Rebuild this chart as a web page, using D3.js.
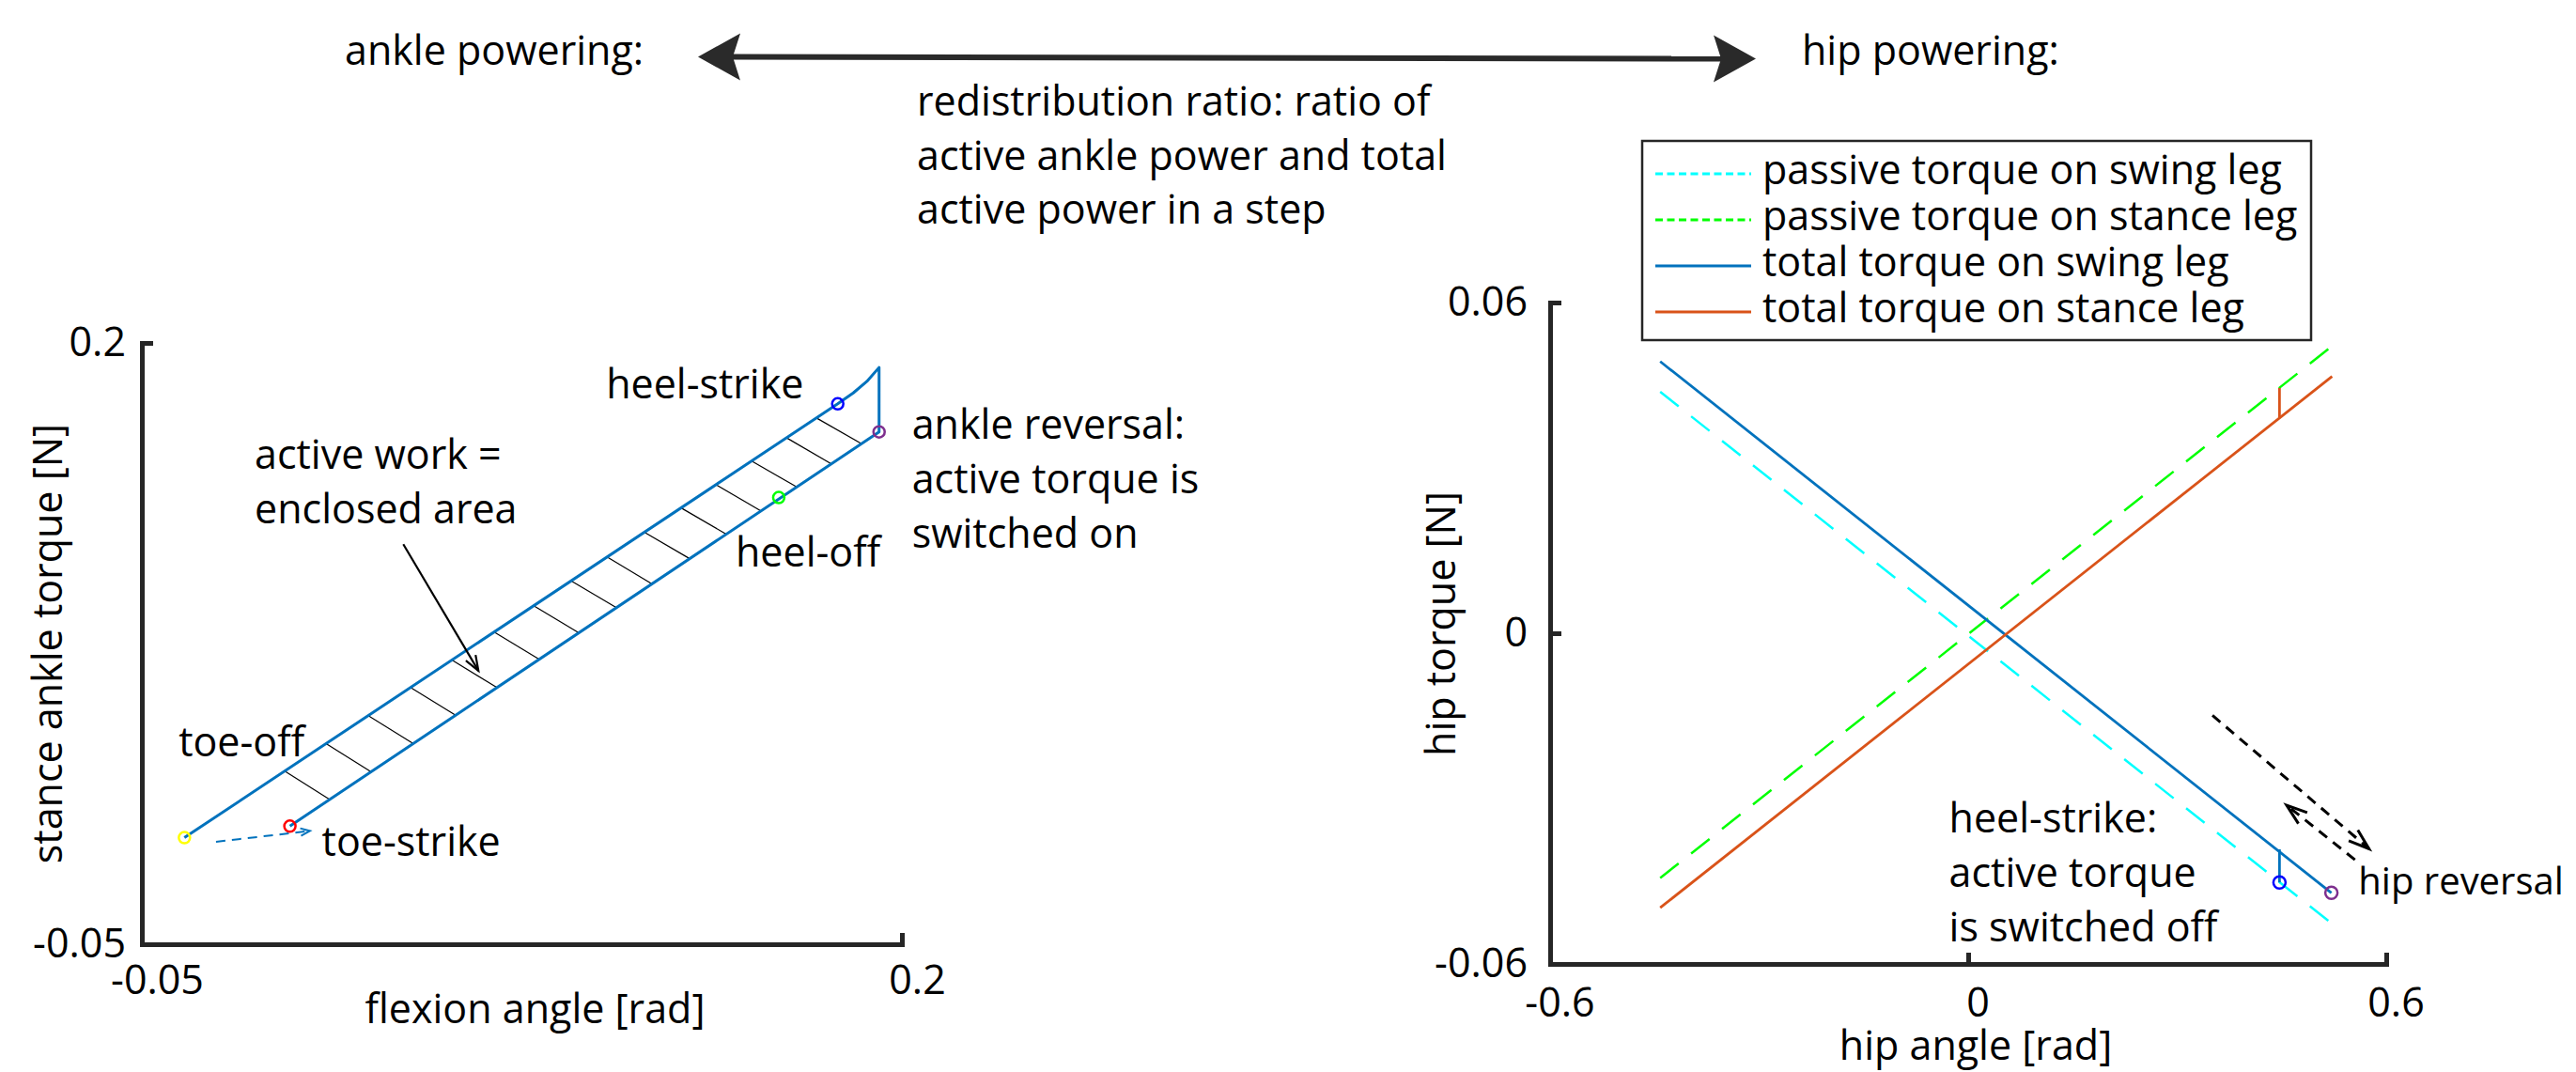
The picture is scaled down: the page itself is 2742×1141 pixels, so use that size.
<!DOCTYPE html>
<html>
<head>
<meta charset="utf-8">
<script src="https://cdn.jsdelivr.net/npm/d3@7/dist/d3.min.js"></script>
<style>
  body { margin: 0; background: #fff; }
  svg text { font-family: 'Open Sans', Lato, sans-serif; fill: #000; }
</style>
</head>
<body>
<div class="figure"></div>
<script>
// ---------- ankle powering (left panel) ----------
const ankle_x_ticks = [-0.05, 0.2];
const ankle_x_labels = ['-0.05', '0.2'];
const ankle_y_ticks = [-0.05, 0.2];
const ankle_y_labels = ['-0.05', '0.2'];

// toe-off -> heel-strike -> peak -> ankle reversal -> toe-strike
const ankle_cycle_x = [-0.0360, 0.1789, 0.1840, 0.1885, 0.1925, 0.1925, -0.0013];
const ankle_cycle_y = [-0.0057, 0.1747, 0.1792, 0.1840, 0.1898, 0.1630, -0.0009];

// hatching of the enclosed area: [x0, y0, x1, y1]
const ankle_hatch = [
  [-0.0030, 0.0220, 0.0118, 0.0102],
  [ 0.0106, 0.0334, 0.0254, 0.0217],
  [ 0.0245, 0.0450, 0.0393, 0.0334],
  [ 0.0384, 0.0567, 0.0532, 0.0452],
  [ 0.0520, 0.0682, 0.0668, 0.0567],
  [ 0.0659, 0.0798, 0.0807, 0.0685],
  [ 0.0789, 0.0907, 0.0937, 0.0795],
  [ 0.0912, 0.1011, 0.1061, 0.0899],
  [ 0.1030, 0.1110, 0.1178, 0.0998],
  [ 0.1153, 0.1213, 0.1302, 0.1103],
  [ 0.1274, 0.1314, 0.1422, 0.1205],
  [ 0.1388, 0.1411, 0.1536, 0.1302],
  [ 0.1506, 0.1509, 0.1654, 0.1401],
  [ 0.1620, 0.1606, 0.1768, 0.1497],
  [ 0.1719, 0.1688, 0.1867, 0.1581]
];

const ankle_events = ['toe-off', 'toe-strike', 'heel-off', 'heel-strike', 'ankle reversal'];
const ankle_event_x = [-0.0360, -0.0013, 0.1595, 0.1789, 0.1925];
const ankle_event_y = [-0.0057, -0.0009, 0.1357, 0.1747, 0.1630];
const ankle_event_colors = ['#ffff00', '#ff0000', '#00ff00', '#0000ff', '#7e2f8e'];

// toe-off -> toe-strike transition (dashed arrow)
const ankle_transfer = [[-0.0256, -0.0074], [0.0053, -0.0029]];
// "active work" pointer
const ankle_pointer = [[0.0360, 0.1163], [0.0607, 0.0637]];

const ankle_notes = [
  {lines: ['heel-strike'], x: 0.1027, y: 0.1770},
  {lines: ['active work =', 'enclosed area'], x: -0.0129, y: 0.1475},
  {lines: ['heel-off'], x: 0.1453, y: 0.1070},
  {lines: ['toe-off'], x: -0.0379, y: 0.0281},
  {lines: ['toe-strike'], x: 0.0092, y: -0.0132},
  {lines: ['ankle reversal:', 'active torque is', 'switched on'], x: 0.2033, y: 0.1600}
];

// ---------- hip powering (right panel) ----------
const hip_x_ticks = [-0.6, 0, 0.6];
const hip_x_labels = ['-0.6', '0', '0.6'];
const hip_y_ticks = [-0.06, 0, 0.06];
const hip_y_labels = ['-0.06', '0', '0.06'];

const hip_series = ['passive torque on swing leg', 'passive torque on stance leg',
                    'total torque on swing leg', 'total torque on stance leg'];
const hip_passive_swing = [[-0.442, 0.0438], [0.5213, -0.0526]];
const hip_passive_stance = [[-0.442, -0.0444], [0.5223, 0.0521]];
const hip_total_swing = [[-0.442, 0.0493], [0.5213, -0.0471]];
const hip_total_stance = [[-0.442, -0.0498], [0.5223, 0.0466]];
const hip_swing_jump = [[0.4468, -0.0392], [0.4468, -0.0452]];
const hip_stance_jump = [[0.4468, 0.0445], [0.4468, 0.0390]];

const hip_events = ['heel-strike', 'hip reversal'];
const hip_event_x = [0.4468, 0.5213];
const hip_event_y = [-0.0452, -0.0471];
const hip_event_colors = ['#0000ff', '#7e2f8e'];

// reversal arrows (dashed)
const hip_arrow_out = [[0.3506, -0.0149], [0.5753, -0.0391]];
const hip_arrow_back = [[0.5551, -0.0411], [0.4571, -0.0312]];

const hip_notes = [
  {lines: ['hip reversal'], x: 0.5600, y: -0.0474, size: 40},
  {lines: ['heel-strike:', 'active torque', 'is switched off'], x: -0.0275, y: -0.0361}
];

// ---------- canvas ----------
const svg_width = 2742;
const svg_height = 1141;
const font_size = 43;
const line_gap = 58;
const axis_color = '#262626';

const svg = d3.select('.figure')
  .append('svg')
  .attr('width', svg_width)
  .attr('height', svg_height);
svg.append('rect').attr('width', svg_width).attr('height', svg_height).attr('fill', '#fff');

const defs = svg.append('defs');

// open chevron arrow head
function add_chevron(id, color, len, half, width){
  defs.append('marker')
    .attr('id', id)
    .attr('markerUnits', 'userSpaceOnUse')
    .attr('viewBox', `0 0 ${len} ${half * 2}`)
    .attr('markerWidth', len)
    .attr('markerHeight', half * 2)
    .attr('refX', len)
    .attr('refY', half)
    .attr('orient', 'auto')
    .style('overflow', 'visible')
    .append('path')
    .attr('d', `M0,0L${len},${half}L0,${half * 2}`)
    .attr('fill', 'none')
    .attr('stroke', color)
    .attr('stroke-width', width)
    .attr('stroke-dasharray', 'none');
}
add_chevron('chev-black', '#000', 16, 6, 2.2);
add_chevron('chev-hip', '#000', 22, 7.5, 3);
add_chevron('chev-blue', '#0072bd', 10, 4, 2);

// filled concave head for the ratio arrow
defs.append('marker')
  .attr('id', 'head-big')
  .attr('markerUnits', 'userSpaceOnUse')
  .attr('viewBox', '0 0 45 50')
  .attr('markerWidth', 45)
  .attr('markerHeight', 50)
  .attr('refX', 8)
  .attr('refY', 25)
  .attr('orient', 'auto-start-reverse')
  .style('overflow', 'visible')
  .append('path')
  .attr('d', 'M0,0L45,25L0,50L8,25Z')
  .attr('fill', '#2a2a2a');

function add_notes(g, notes, x, y){
  notes.forEach(n => {
    const t = g.append('text')
      .attr('x', x(n.x))
      .attr('y', y(n.y))
      .style('font-size', (n.size || font_size) + 'px');
    n.lines.forEach((s, i) => {
      t.append('tspan').attr('x', x(n.x)).attr('dy', i === 0 ? 0 : line_gap).text(s);
    });
  });
}

function draw_axes(box, x, y, x_ticks, x_labels, y_ticks, y_labels, x_pad, y_pad, x_shift){
  const x_axis = d3.axisBottom(x)
    .tickValues(x_ticks)
    .tickFormat((d, i) => x_labels[i])
    .tickSizeInner(-12)
    .tickSizeOuter(0)
    .tickPadding(x_pad);
  const y_axis = d3.axisLeft(y)
    .tickValues(y_ticks)
    .tickFormat((d, i) => y_labels[i])
    .tickSizeInner(-12)
    .tickSizeOuter(0)
    .tickPadding(y_pad);
  const gx = svg.append('g')
    .attr('transform', `translate(0, ${box.bottom})`)
    .call(x_axis);
  const gy = svg.append('g')
    .attr('transform', `translate(${box.left}, 0)`)
    .call(y_axis);
  [gx, gy].forEach(g => {
    g.select('.domain').attr('stroke', axis_color).attr('stroke-width', 5).attr('stroke-linecap', 'square');
    g.selectAll('.tick line').attr('stroke', axis_color).attr('stroke-width', 5);
    g.selectAll('.tick text')
      .attr('fill', '#000')
      .style('font-family', '"Open Sans", Lato, sans-serif')
      .style('font-size', font_size + 'px');
  });
  gx.selectAll('.tick text').attr('dx', x_shift);
}

// ---------- ratio header ----------
const header = svg.append('g');
header.append('path')
  .attr('d', d3.line()([[780, 60.5], [1832, 62.5]]))
  .attr('stroke', '#2a2a2a')
  .attr('stroke-width', 6)
  .attr('fill', 'none')
  .attr('marker-start', 'url(#head-big)')
  .attr('marker-end', 'url(#head-big)');
header.append('text').attr('x', 367).attr('y', 69).style('font-size', font_size + 'px').text('ankle powering:');
header.append('text').attr('x', 1918).attr('y', 69).style('font-size', font_size + 'px').text('hip powering:');
const ratio_text = header.append('text').attr('x', 976).attr('y', 123).style('font-size', font_size + 'px');
['redistribution ratio: ratio of', 'active ankle power and total', 'active power in a step']
  .forEach((s, i) => ratio_text.append('tspan').attr('x', 976).attr('dy', i === 0 ? 0 : 57.5).text(s));

// ---------- ankle panel ----------
const ankle_box = {left: 151, right: 960, top: 365, bottom: 1005};
const ax = d3.scaleLinear().domain([-0.05, 0.2]).range([ankle_box.left, ankle_box.right]);
const ay = d3.scaleLinear().domain([-0.05, 0.2]).range([ankle_box.bottom, ankle_box.top]);
const ankle_line = d3.line().x(d => ax(d[0])).y(d => ay(d[1]));

draw_axes(ankle_box, ax, ay, ankle_x_ticks, ankle_x_labels, ankle_y_ticks, ankle_y_labels, 22, 17, 16);

const ankle_g = svg.append('g');
ankle_g.selectAll('.hatch')
  .data(ankle_hatch)
  .enter()
  .append('line')
  .attr('class', 'hatch')
  .attr('x1', d => ax(d[0])).attr('y1', d => ay(d[1]))
  .attr('x2', d => ax(d[2])).attr('y2', d => ay(d[3]))
  .attr('stroke', '#000')
  .attr('stroke-width', 1.2);

ankle_g.append('path')
  .attr('d', ankle_line(ankle_cycle_x.map((d, i) => [d, ankle_cycle_y[i]])))
  .attr('fill', 'none')
  .attr('stroke', '#0072bd')
  .attr('stroke-width', 3)
  .attr('stroke-linejoin', 'round');

ankle_g.append('path')
  .attr('d', ankle_line(ankle_transfer))
  .attr('fill', 'none')
  .attr('stroke', '#0072bd')
  .attr('stroke-width', 2)
  .attr('stroke-dasharray', '10,7')
  .attr('marker-end', 'url(#chev-blue)');

ankle_g.append('path')
  .attr('d', ankle_line(ankle_pointer))
  .attr('fill', 'none')
  .attr('stroke', '#000')
  .attr('stroke-width', 2.2)
  .attr('marker-end', 'url(#chev-black)');

ankle_g.selectAll('.event')
  .data(ankle_events)
  .enter()
  .append('circle')
  .attr('class', 'event')
  .attr('cx', (d, i) => ax(ankle_event_x[i]))
  .attr('cy', (d, i) => ay(ankle_event_y[i]))
  .attr('r', 6)
  .attr('fill', 'none')
  .attr('stroke', (d, i) => ankle_event_colors[i])
  .attr('stroke-width', 2.5);

add_notes(ankle_g, ankle_notes, ax, ay);

svg.append('text')
  .attr('x', (ankle_box.left + ankle_box.right) / 2 + 14)
  .attr('y', 1089)
  .attr('text-anchor', 'middle')
  .style('font-size', font_size + 'px')
  .text('flexion angle [rad]');
svg.append('text')
  .attr('transform', `translate(66, ${(ankle_box.top + ankle_box.bottom) / 2}) rotate(-90)`)
  .attr('text-anchor', 'middle')
  .style('font-size', font_size + 'px')
  .text('stance ankle torque [N]');

// ---------- hip panel ----------
const hip_box = {left: 1650, right: 2540, top: 322, bottom: 1026};
const hx = d3.scaleLinear().domain([-0.6, 0.6]).range([hip_box.left, hip_box.right]);
const hy = d3.scaleLinear().domain([-0.06, 0.06]).range([hip_box.bottom, hip_box.top]);
const hip_line = d3.line().x(d => hx(d[0])).y(d => hy(d[1]));

draw_axes(hip_box, hx, hy, hip_x_ticks, hip_x_labels, hip_y_ticks, hip_y_labels, 25, 24, 10);

const hip_colors = ['#00ffff', '#00ff00', '#0072bd', '#d95319'];
const hip_dash = ['25,17', '25,17', null, null];
const hip_data = [hip_passive_swing, hip_passive_stance, hip_total_swing, hip_total_stance];

const hip_g = svg.append('g');
hip_g.selectAll('.series')
  .data(hip_data)
  .enter()
  .append('path')
  .attr('class', 'series')
  .attr('d', d => hip_line(d))
  .attr('fill', 'none')
  .attr('stroke', (d, i) => hip_colors[i])
  .attr('stroke-width', (d, i) => i < 2 ? 2.5 : 2.8)
  .attr('stroke-dasharray', (d, i) => hip_dash[i]);

hip_g.append('path').attr('d', hip_line(hip_swing_jump))
  .attr('stroke', hip_colors[2]).attr('stroke-width', 2.8).attr('fill', 'none');
hip_g.append('path').attr('d', hip_line(hip_stance_jump))
  .attr('stroke', hip_colors[3]).attr('stroke-width', 2.8).attr('fill', 'none');

[hip_arrow_out, hip_arrow_back].forEach(a => {
  hip_g.append('path')
    .attr('d', hip_line(a))
    .attr('fill', 'none')
    .attr('stroke', '#000')
    .attr('stroke-width', 3)
    .attr('stroke-dasharray', '11,8')
    .attr('marker-end', 'url(#chev-hip)');
});

hip_g.selectAll('.event')
  .data(hip_events)
  .enter()
  .append('circle')
  .attr('class', 'event')
  .attr('cx', (d, i) => hx(hip_event_x[i]))
  .attr('cy', (d, i) => hy(hip_event_y[i]))
  .attr('r', 6.5)
  .attr('fill', 'none')
  .attr('stroke', (d, i) => hip_event_colors[i])
  .attr('stroke-width', 2.5);

add_notes(hip_g, hip_notes, hx, hy);

svg.append('text')
  .attr('x', (hip_box.left + hip_box.right) / 2 + 8)
  .attr('y', 1128)
  .attr('text-anchor', 'middle')
  .style('font-size', font_size + 'px')
  .text('hip angle [rad]');
svg.append('text')
  .attr('transform', `translate(1549, ${(hip_box.top + hip_box.bottom) / 2 - 10}) rotate(-90)`)
  .attr('text-anchor', 'middle')
  .style('font-size', font_size + 'px')
  .text('hip torque [N]');

// legend
const legend = svg.append('g').attr('transform', 'translate(1748, 150)');
legend.append('rect')
  .attr('width', 712).attr('height', 212)
  .attr('fill', '#fff')
  .attr('stroke', axis_color)
  .attr('stroke-width', 2.5);
const legend_rows = legend.selectAll('.row')
  .data(hip_series)
  .enter()
  .append('g')
  .attr('class', 'row')
  .attr('transform', (d, i) => `translate(0, ${35 + i * 49})`);
legend_rows.append('line')
  .attr('x1', 14).attr('x2', 116)
  .attr('stroke', (d, i) => hip_colors[i])
  .attr('stroke-width', 3)
  .attr('stroke-dasharray', (d, i) => hip_dash[i] ? '8,4.5' : null);
legend_rows.append('text')
  .attr('x', 128)
  .attr('y', 11)
  .style('font-size', font_size + 'px')
  .text(d => d);
</script>
</body>
</html>
